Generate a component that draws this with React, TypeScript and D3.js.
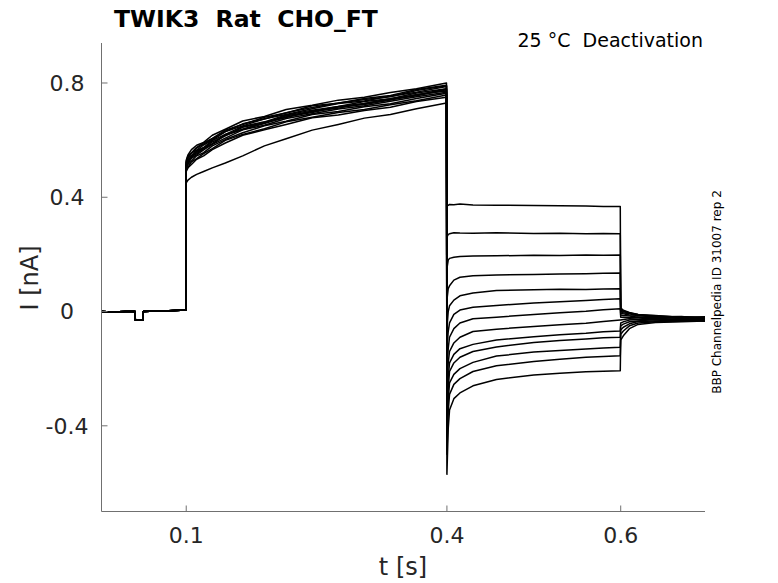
import { useMemo } from "react";
import * as d3 from "d3";

const WIDTH = 778;
const HEIGHT = 583;
const FONT = "DejaVu Sans, sans-serif";

// time bases [s]
const BASE_T = [0.0025, 0.015, 0.03, 0.0412, 0.0414, 0.0504, 0.0506, 0.065, 0.08, 0.0998];
const BASE_I = [0.0, -0.002, 0.0, 0.0, -0.03, -0.03, 0.0, 0.002, 0.003, 0.005];

const ACT_T = [0.1, 0.102, 0.106, 0.112, 0.12, 0.13, 0.145, 0.165, 0.19, 0.215, 0.245, 0.275, 0.305, 0.335, 0.365, 0.3995];
const DEACT_T = [0.4, 0.4015, 0.403, 0.408, 0.415, 0.43, 0.457, 0.5, 0.53, 0.56, 0.58, 0.5995];
const TAIL_T = [0.6, 0.603, 0.61, 0.62, 0.64, 0.67, 0.697];

// current [nA] per sweep during the activating step
const ACT_I = [
  [0.53, 0.548, 0.567, 0.582, 0.592, 0.617, 0.638, 0.667, 0.683, 0.707, 0.722, 0.74, 0.75, 0.767, 0.78, 0.8],
  [0.525, 0.545, 0.556, 0.575, 0.59, 0.606, 0.635, 0.655, 0.68, 0.695, 0.72, 0.729, 0.746, 0.756, 0.777, 0.792],
  [0.52, 0.535, 0.555, 0.565, 0.583, 0.6, 0.63, 0.65, 0.675, 0.69, 0.71, 0.728, 0.737, 0.754, 0.768, 0.788],
  [0.515, 0.53, 0.545, 0.563, 0.574, 0.598, 0.62, 0.648, 0.664, 0.688, 0.705, 0.718, 0.735, 0.745, 0.765, 0.78],
  [0.51, 0.527, 0.538, 0.556, 0.572, 0.588, 0.617, 0.638, 0.662, 0.679, 0.702, 0.712, 0.728, 0.742, 0.755, 0.776],
  [0.505, 0.518, 0.536, 0.548, 0.566, 0.585, 0.607, 0.636, 0.652, 0.676, 0.692, 0.709, 0.72, 0.736, 0.752, 0.768],
  [0.45, 0.46, 0.47, 0.48, 0.49, 0.503, 0.52, 0.545, 0.58, 0.605, 0.635, 0.655, 0.677, 0.69, 0.71, 0.73],
  [0.5, 0.515, 0.527, 0.545, 0.556, 0.58, 0.602, 0.626, 0.65, 0.666, 0.69, 0.7, 0.717, 0.727, 0.746, 0.764],
  [0.495, 0.505, 0.524, 0.535, 0.553, 0.57, 0.599, 0.62, 0.64, 0.664, 0.68, 0.697, 0.707, 0.724, 0.738, 0.758],
  [0.49, 0.503, 0.515, 0.533, 0.545, 0.567, 0.59, 0.617, 0.636, 0.655, 0.678, 0.688, 0.704, 0.715, 0.735, 0.75],
  [0.512, 0.53, 0.542, 0.56, 0.572, 0.594, 0.615, 0.645, 0.661, 0.685, 0.7, 0.718, 0.728, 0.745, 0.758, 0.779],
  [0.508, 0.52, 0.545, 0.552, 0.57, 0.586, 0.62, 0.637, 0.658, 0.682, 0.697, 0.716, 0.725, 0.74, 0.76, 0.772],
  [0.522, 0.54, 0.553, 0.572, 0.586, 0.604, 0.63, 0.657, 0.674, 0.696, 0.714, 0.73, 0.742, 0.752, 0.774, 0.79],
];

// current [nA] per sweep during the deactivating steps
const DEACT_I = [
  [0.37, 0.372, 0.375, 0.374, 0.376, 0.373, 0.372, 0.371, 0.37, 0.369, 0.368, 0.368],
  [0.26, 0.27, 0.272, 0.276, 0.275, 0.274, 0.276, 0.273, 0.274, 0.272, 0.273, 0.272],
  [0.15, 0.18, 0.186, 0.19, 0.193, 0.194, 0.195, 0.197, 0.196, 0.198, 0.197, 0.198],
  [0.04, 0.08, 0.09, 0.11, 0.12, 0.125, 0.128, 0.13, 0.131, 0.132, 0.134, 0.135],
  [-0.06, 0.0, 0.02, 0.04, 0.055, 0.065, 0.074, 0.076, 0.078, 0.077, 0.079, 0.08],
  [-0.13, -0.07, -0.04, -0.01, 0.005, 0.015, 0.021, 0.03, 0.034, 0.039, 0.042, 0.045],
  [-0.2, -0.13, -0.09, -0.06, -0.04, -0.025, -0.02, -0.01, -0.004, 0.001, 0.006, 0.01],
  [-0.26, -0.18, -0.14, -0.11, -0.09, -0.07, -0.062, -0.052, -0.046, -0.041, -0.035, -0.03],
  [-0.32, -0.23, -0.18, -0.15, -0.13, -0.115, -0.1, -0.088, -0.081, -0.076, -0.071, -0.068],
  [-0.38, -0.27, -0.21, -0.18, -0.16, -0.14, -0.124, -0.108, -0.101, -0.096, -0.092, -0.09],
  [-0.44, -0.31, -0.25, -0.22, -0.2, -0.178, -0.156, -0.142, -0.136, -0.131, -0.128, -0.125],
  [-0.5, -0.35, -0.29, -0.255, -0.235, -0.21, -0.19, -0.175, -0.167, -0.16, -0.157, -0.155],
  [-0.57, -0.41, -0.345, -0.305, -0.285, -0.26, -0.238, -0.222, -0.216, -0.211, -0.209, -0.207],
];

// tail current [nA] per sweep after returning to holding
const TAIL_I = [
  [0.012, 0.005, -0.003, -0.01, -0.015, -0.02, -0.022],
  [0.008, 0.002, -0.005, -0.01, -0.017, -0.018, -0.02],
  [0.004, 0.0, -0.006, -0.012, -0.014, -0.021, -0.018],
  [0.0, -0.004, -0.008, -0.015, -0.018, -0.017, -0.025],
  [-0.005, -0.008, -0.012, -0.013, -0.02, -0.024, -0.021],
  [-0.012, -0.014, -0.016, -0.02, -0.022, -0.02, -0.027],
  [-0.02, -0.02, -0.022, -0.019, -0.025, -0.028, -0.024],
  [-0.03, -0.028, -0.025, -0.026, -0.023, -0.03, -0.03],
  [-0.04, -0.036, -0.03, -0.028, -0.03, -0.026, -0.032],
  [-0.05, -0.044, -0.036, -0.033, -0.027, -0.032, -0.028],
  [-0.065, -0.055, -0.043, -0.035, -0.033, -0.029, -0.034],
  [-0.08, -0.068, -0.05, -0.04, -0.036, -0.034, -0.03],
  [-0.1, -0.085, -0.06, -0.045, -0.038, -0.036, -0.033],
];

const X_TICKS = [0.1, 0.4, 0.6];
const Y_TICKS = [0.8, 0.4, 0, -0.4];

const X_DOMAIN = [0.0025, 0.697];
const Y_DOMAIN = [-0.7, 0.94];

const PLOT = { left: 101.5, right: 705, top: 43, bottom: 511.5 };

type Pt = [number, number];

const zip = (t: number[], v: number[]): Pt[] => t.map((d, i) => [d, v[i]]);

export default function App() {
  const xScale = useMemo(
    () => d3.scaleLinear().domain(X_DOMAIN).range([PLOT.left, PLOT.right]),
    []
  );
  const yScale = useMemo(
    () => d3.scaleLinear().domain(Y_DOMAIN).range([PLOT.bottom, PLOT.top]),
    []
  );

  const line = d3
    .line<Pt>()
    .x((d) => xScale(d[0]))
    .y((d) => yScale(d[1]));

  const sweeps = ACT_I.map((act, k) => [
    ...zip(BASE_T, BASE_I),
    ...zip(ACT_T, act),
    ...zip(DEACT_T, DEACT_I[k]),
    ...zip(TAIL_T, TAIL_I[k]),
  ]);

  const axisColor = "#707070";
  const textColor = "#262626";

  return (
    <svg
      width={WIDTH}
      height={HEIGHT}
      style={{ position: "absolute", left: 0, top: 0, background: "#fff" }}
      fontFamily={FONT}
    >
      <rect width={WIDTH} height={HEIGHT} fill="#fff" />

      {sweeps.map((pts, i) => (
        <path
          key={i}
          d={line(pts) ?? ""}
          fill="none"
          stroke="#000"
          strokeWidth={1.5}
          strokeLinejoin="round"
        />
      ))}

      {/* axes */}
      <line x1={PLOT.left} x2={PLOT.left} y1={PLOT.top} y2={PLOT.bottom} stroke={axisColor} />
      <line x1={PLOT.left} x2={PLOT.right} y1={PLOT.bottom} y2={PLOT.bottom} stroke={axisColor} />

      {X_TICKS.map((t) => (
        <g key={t}>
          <line
            x1={xScale(t)}
            x2={xScale(t)}
            y1={PLOT.bottom}
            y2={PLOT.bottom - 6}
            stroke={axisColor}
          />
          <text x={xScale(t)} y={543} textAnchor="middle" fontSize={22} fill={textColor}>
            {t}
          </text>
        </g>
      ))}

      {Y_TICKS.map((t) => (
        <g key={t}>
          <line
            x1={PLOT.left}
            x2={PLOT.left + 6}
            y1={yScale(t)}
            y2={yScale(t)}
            stroke={axisColor}
          />
          <text
            x={67}
            y={yScale(t)}
            dy="0.36em"
            textAnchor="middle"
            fontSize={22}
            fill={textColor}
          >
            {t}
          </text>
        </g>
      ))}

      <text x={403} y={575} textAnchor="middle" fontSize={24} fill={textColor}>
        t [s]
      </text>
      <text
        transform={`translate(38, 278) rotate(-90)`}
        textAnchor="middle"
        fontSize={24}
        fill={textColor}
      >
        I [nA]
      </text>

      <text
        x={114}
        y={27}
        fontSize={23.5}
        fontWeight="bold"
        fill="#000"
        style={{ whiteSpace: "pre" }}
      >
        {"TWIK3  Rat  CHO_FT"}
      </text>
      <text
        x={703}
        y={47}
        textAnchor="end"
        fontSize={19}
        fill="#000"
        style={{ whiteSpace: "pre" }}
      >
        {"25 °C  Deactivation"}
      </text>
      <text
        transform={`translate(721, 292) rotate(-90)`}
        textAnchor="middle"
        fontSize={12}
        fill="#000"
      >
        BBP Channelpedia ID 31007 rep 2
      </text>
    </svg>
  );
}
